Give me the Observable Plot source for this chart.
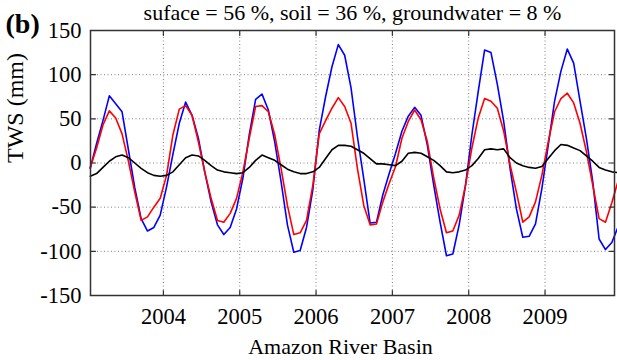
<!DOCTYPE html>
<html>
<head>
<meta charset="utf-8">
<script src="https://cdn.jsdelivr.net/npm/d3@7"></script>
<script src="https://cdn.jsdelivr.net/npm/@observablehq/plot@0.6"></script>
<style>
html, body { margin: 0; padding: 0; background: #fff; }
#chart { width: 617px; height: 360px; overflow: hidden; }
#chart svg, #chart svg text { font-family: "Liberation Serif", "Times New Roman", Times, serif !important; }
</style>
</head>
<body>
<div id="chart"></div>
<script>
const title = "suface = 56 %, soil = 36 %, groundwater = 8 %";
const panelLabel = "(b)";
const yLabel = "TWS (mm)";
const xLabel = "Amazon River Basin";
const startYear = 2003;
const yearTicks = [2004, 2005, 2006, 2007, 2008, 2009];
const yTicks = [-150, -100, -50, 0, 50, 100, 150];

// monthly values, Jan 2003 .. Dec 2009 (mm)
const blueTWS = [
  -6, 22, 48, 76, 67, 58, 15, -28, -63, -77, -73, -59,
  -27, 10, 45, 69, 54, 28, -10, -44, -70, -81, -73, -52,
  -17, 32, 72, 78, 60, 24, -21, -70, -101, -99, -73, -30,
  37, 75, 109, 134, 122, 85, 30, -18, -68, -67, -36, -12,
  11, 36, 53, 63, 54, 20, -25, -67, -105, -103, -70, -25,
  32, 81, 128, 125, 89, 47, -6, -52, -84, -83, -69, -29,
  20, 70, 104, 129, 113, 70, 28, -21, -86, -98, -90, -72
];
const redTWS = [
  -5, 17, 43, 59, 51, 33, 2, -33, -65, -61, -50, -40,
  -14, 32, 61, 65, 54, 24, -10, -40, -65, -67, -57, -40,
  -10, 28, 64, 65, 58, 32, -6, -48, -81, -79, -65, -25,
  33, 48, 62, 74, 64, 45, -6, -48, -70, -69, -44, -23,
  -4, 28, 47, 60, 49, 24, -17, -52, -79, -77, -59, -25,
  17, 51, 73, 70, 62, 36, -2, -33, -67, -61, -44, -14,
  24, 58, 73, 79, 68, 45, 13, -25, -63, -67, -45, -20
];
const blackTWS = [
  -15, -12, -5, 2, 7, 9, 6, 0, -6, -11, -14, -15,
  -14, -10, -2, 6, 9, 8, 3, -3, -8, -10, -11, -12,
  -11, -5, 3, 9, 6, 3, -2, -7, -10, -12, -12, -10,
  -5, 5, 15, 20, 20, 19, 15, 11, 5, -1, -1, -2,
  -3, 2, 11, 12, 11, 7, 3, -3, -10, -11, -10, -8,
  -3, 5, 15, 16, 15, 16, 6, 0, -3, -5, -6, -4,
  5, 14, 21, 20, 17, 14, 8, 2, -5, -8, -10, -11
];

const time = blueTWS.map((_, i) => startYear + (i + 0.5) / 12);
const toRows = vals => vals.map((v, i) => ({t: time[i], v}));

const serif = "Liberation Serif";
const tickShape = {draw(context, l) { context.moveTo(0, 0); context.lineTo(0, -l); }};
const tickOpts = {length: 5, anchor: "start", shape: tickShape, stroke: "#333", strokeWidth: 1.2};
const gridOpts = {stroke: "#808080", strokeOpacity: 1, strokeWidth: 1, strokeDasharray: "1,2.5"};
const txt = {fontFamily: serif, fill: "#000"};

const chart = Plot.plot({
  width: 617,
  height: 360,
  marginLeft: 90,
  marginRight: 3,
  marginTop: 30,
  marginBottom: 65,
  style: {fontFamily: serif, fontSize: "22px", color: "#000", background: "#fff", overflow: "visible"},
  x: {domain: [2003.045, 2009.91], label: null},
  y: {domain: [-150, 150], label: null},
  marks: [
    Plot.gridX(yearTicks, gridOpts),
    Plot.gridY(yTicks.filter(v => v > -150 && v < 150), gridOpts),
    Plot.line(toRows(blueTWS), {x: "t", y: "v", stroke: "#0000ff", strokeWidth: 1.6}),
    Plot.line(toRows(redTWS), {x: "t", y: "v", stroke: "#ff0000", strokeWidth: 1.6}),
    Plot.line(toRows(blackTWS), {x: "t", y: "v", stroke: "#000", strokeWidth: 1.6}),
    Plot.frame({stroke: "#333", strokeWidth: 1.5}),
    Plot.vector(yearTicks, {x: d => d, frameAnchor: "bottom", rotate: 0, ...tickOpts}),
    Plot.vector(yearTicks, {x: d => d, frameAnchor: "top", rotate: 180, ...tickOpts}),
    Plot.vector(yTicks, {y: d => d, frameAnchor: "left", rotate: 90, ...tickOpts}),
    Plot.vector(yTicks, {y: d => d, frameAnchor: "right", rotate: -90, ...tickOpts}),
    Plot.axisX(yearTicks, {anchor: "bottom", tickSize: 0, tickPadding: 13, tickFormat: d => `${d}`, fontSize: 22.5, ...txt}),
    Plot.axisY(yTicks, {anchor: "left", tickSize: 0, tickPadding: 9, tickFormat: d => `${d}`, fontSize: 22.5, ...txt}),
    Plot.text([title], {frameAnchor: "top", dy: -11, lineAnchor: "bottom", fontSize: 22, ...txt}),
    Plot.text([panelLabel], {frameAnchor: "top-left", dx: -85, dy: 2, textAnchor: "start", lineAnchor: "bottom", fontSize: 28, fontWeight: "bold", ...txt}),
    Plot.text([yLabel], {frameAnchor: "left", dx: -75, rotate: -90, fontSize: 24, ...txt}),
    Plot.text([xLabel], {frameAnchor: "bottom", dx: -12, dy: 58, lineAnchor: "bottom", fontSize: 22, ...txt})
  ]
});
document.getElementById("chart").appendChild(chart);
</script>
</body>
</html>
